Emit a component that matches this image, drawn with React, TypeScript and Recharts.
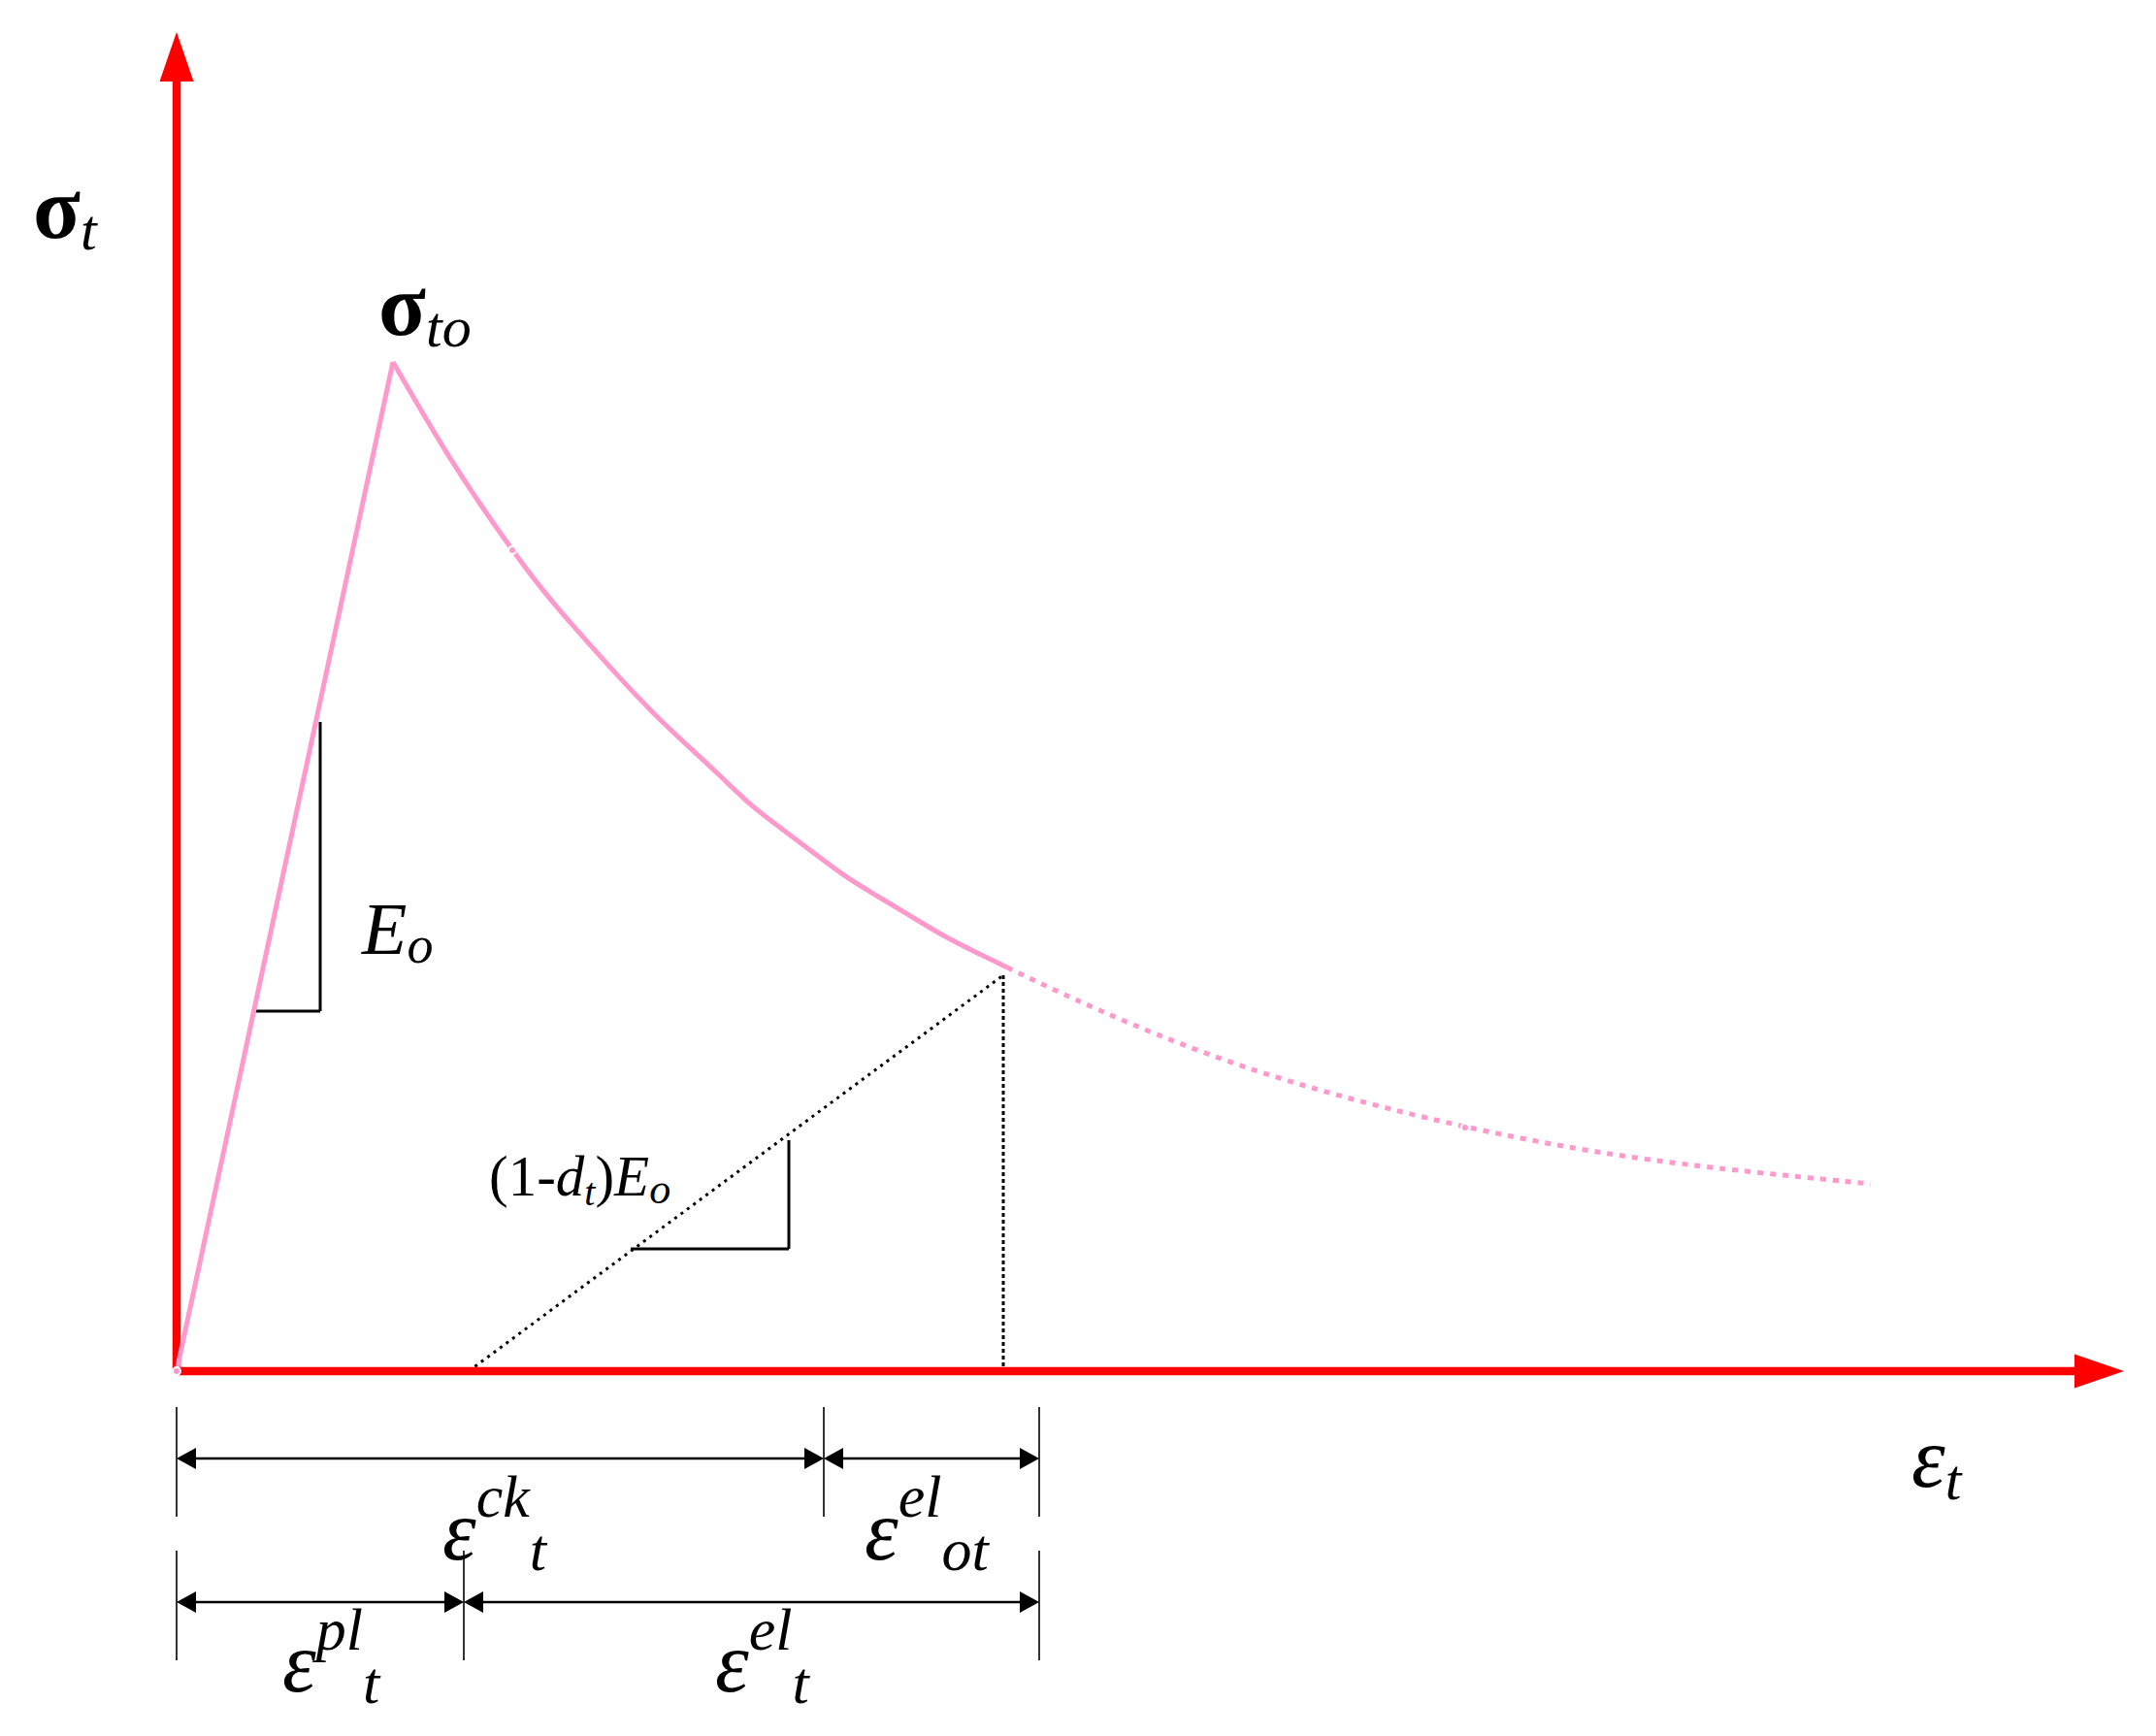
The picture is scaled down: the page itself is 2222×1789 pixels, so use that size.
import { ComposedChart, Line, XAxis, YAxis, ReferenceLine, ReferenceDot } from 'recharts'

// strain (x) / stress (y) in arbitrary sketch units
const loading = [
  { x: 0, y: 0 },
  { x: 2.23, y: 10.4 },
]
const softening = [
  { x: 2.23, y: 10.4 },
  { x: 2.46, y: 10.0 },
  { x: 2.8, y: 9.43 },
  { x: 3.13, y: 8.93 },
  { x: 3.46, y: 8.46 },
  { x: 3.8, y: 8.01 },
  { x: 4.13, y: 7.63 },
  { x: 4.56, y: 7.15 },
  { x: 4.91, y: 6.78 },
  { x: 5.25, y: 6.46 },
  { x: 5.58, y: 6.16 },
  { x: 5.91, y: 5.83 },
  { x: 6.25, y: 5.58 },
  { x: 6.58, y: 5.33 },
  { x: 6.91, y: 5.08 },
  { x: 7.25, y: 4.88 },
  { x: 7.58, y: 4.68 },
  { x: 7.91, y: 4.48 },
  { x: 8.25, y: 4.31 },
  { x: 8.56, y: 4.16 },
]
const softeningTail = [
  { x: 8.56, y: 4.16 },
  { x: 9.46, y: 3.73 },
  { x: 10.73, y: 3.21 },
  { x: 12.01, y: 2.82 },
  { x: 13.28, y: 2.51 },
  { x: 14.56, y: 2.26 },
  { x: 15.83, y: 2.09 },
  { x: 17.46, y: 1.93 },
]
const unloading = [
  { x: 3.01, y: 0 },
  { x: 8.52, y: 4.08 },
]
const unloadDrop = [
  { x: 8.52, y: 4.08 },
  { x: 8.52, y: 0 },
]
const slopeE0 = [
  { x: 0.8, y: 3.71 },
  { x: 1.48, y: 3.71 },
  { x: 1.48, y: 6.69 },
]
const slopeDamaged = [
  { x: 4.68, y: 1.26 },
  { x: 6.31, y: 1.26 },
  { x: 6.31, y: 2.38 },
]
const axisEndX = 20.07
const axisEndY = 13.8
// dimension rows: strain marks (0, ck | el_ot) and (0, pl | el)
const crackMarks = [0, 6.67, 8.89]
const plasticMarks = [0, 2.96, 8.89]
const rowCrack = { y: -0.9, tickTop: -0.37, tickBottom: -1.5 }
const rowPlastic = { y: -2.38, tickTop: -1.85, tickBottom: -2.98 }

const W = 2222
const H = 1789
const FONT = '"Liberation Serif", "Times New Roman", serif'
const PINK = '#ff99cc'
const RED = '#ff0000'

type Piece = { t: string; size: number; italic?: boolean; bold?: boolean; dy?: number; dx?: number }
type Note = { x: number; y: number; pieces: Piece[] }

const notes: Note[] = [
  { x: -1.48, y: 11.68, pieces: [{ t: 'σ', size: 90, bold: true }, { t: 't', size: 60, italic: true, dy: 12 }] },
  { x: 2.08, y: 10.68, pieces: [{ t: 'σ', size: 90, bold: true }, { t: 'to', size: 60, italic: true, dy: 12 }] },
  { x: 1.91, y: 4.3, pieces: [{ t: 'E', size: 76, italic: true }, { t: 'o', size: 54, italic: true, dy: 9, dx: 0 }] },
  {
    x: 3.22,
    y: 1.81,
    pieces: [
      { t: '(1-', size: 59 },
      { t: 'd', size: 59, italic: true },
      { t: 't', size: 40, italic: true, dy: 10 },
      { t: ')', size: 59, dy: -10 },
      { t: 'E', size: 59, italic: true },
      { t: 'o', size: 44, italic: true, dy: 8 },
    ],
  },
  { x: 17.88, y: -1.19, pieces: [{ t: 'ε', size: 88, italic: true }, { t: 't', size: 60, italic: true, dy: 13 }] },
  {
    x: 2.74,
    y: -1.94,
    pieces: [
      { t: 'ε', size: 88, italic: true },
      { t: 'ck', size: 62, italic: true, dy: -44 },
      { t: 't', size: 62, italic: true, dy: 55 },
    ],
  },
  {
    x: 7.09,
    y: -1.94,
    pieces: [
      { t: 'ε', size: 88, italic: true },
      { t: 'el', size: 62, italic: true, dy: -44 },
      { t: 'ot', size: 62, italic: true, dy: 55 },
    ],
  },
  {
    x: 1.09,
    y: -3.3,
    pieces: [
      { t: 'ε', size: 88, italic: true },
      { t: 'pl', size: 62, italic: true, dy: -43 },
      { t: 't', size: 62, italic: true, dy: 55 },
    ],
  },
  {
    x: 5.55,
    y: -3.3,
    pieces: [
      { t: 'ε', size: 88, italic: true },
      { t: 'el', size: 62, italic: true, dy: -43 },
      { t: 't', size: 62, italic: true, dy: 55 },
    ],
  },
]

// line with filled arrowheads, drawn in pixel space from the scaled end points
const arrowShape =
  (opts: { color: string; width: number; len: number; half: number; start: boolean; end: boolean }) =>
  (p: any) => {
    const { x1, y1, x2, y2 } = p
    const dx = x2 - x1
    const dy = y2 - y1
    const d = Math.hypot(dx, dy) || 1
    const ux = dx / d
    const uy = dy / d
    const head = (tx: number, ty: number, sx: number, sy: number) => {
      const bx = tx - sx * opts.len
      const by = ty - sy * opts.len
      return `${tx},${ty} ${bx - sy * opts.half},${by + sx * opts.half} ${bx + sy * opts.half},${by - sx * opts.half}`
    }
    const ax = opts.start ? x1 + ux * opts.len * 0.8 : x1
    const ay = opts.start ? y1 + uy * opts.len * 0.8 : y1
    const bx = opts.end ? x2 - ux * opts.len * 0.8 : x2
    const by = opts.end ? y2 - uy * opts.len * 0.8 : y2
    return (
      <g>
        <line x1={ax} y1={ay} x2={bx} y2={by} stroke={opts.color} strokeWidth={opts.width} />
        {opts.start && <polygon points={head(x1, y1, -ux, -uy)} fill={opts.color} />}
        {opts.end && <polygon points={head(x2, y2, ux, uy)} fill={opts.color} />}
      </g>
    )
  }

const axisArrow = arrowShape({ color: RED, width: 8.5, len: 51, half: 17.5, start: false, end: true })
const dimArrow = arrowShape({ color: '#000', width: 2.5, len: 20, half: 11, start: true, end: true })

const noteShape = (n: Note) => (p: any) => (
  <text x={p.cx} y={p.cy} fontFamily={FONT} fill="#000">
    {n.pieces.map((pc, i) => (
      <tspan
        key={i}
        fontSize={pc.size}
        fontStyle={pc.italic ? 'italic' : 'normal'}
        fontWeight={pc.bold ? 'bold' : 'normal'}
        dy={pc.dy ?? 0}
        dx={pc.dx ?? 0}
      >
        {pc.t}
      </tspan>
    ))}
  </text>
)

const segLines = (pts: { x: number; y: number }[]) =>
  pts.slice(1).map((pt, i) => [pts[i], pt] as [{ x: number; y: number }, { x: number; y: number }])

export default function App() {
  return (
    <div style={{ position: 'absolute', left: 0, top: 0, width: W, height: H, background: '#fff' }}>
      <ComposedChart width={W} height={H} margin={{ top: 0, right: 0, bottom: 0, left: 0 }}>
        <XAxis type="number" dataKey="x" domain={[-1.82, 20.4]} allowDataOverflow hide />
        <YAxis type="number" dataKey="y" domain={[-3.76, 14.13]} allowDataOverflow hide />

        {/* unloading path */}
        <Line data={unloading} dataKey="y" type="linear" stroke="#000" strokeWidth={3} strokeDasharray="3 5" dot={false} isAnimationActive={false} />
        <Line data={unloadDrop} dataKey="y" type="linear" stroke="#000" strokeWidth={3} strokeDasharray="4 3" dot={false} isAnimationActive={false} />

        {/* slope markers */}
        {[...segLines(slopeE0), ...segLines(slopeDamaged)].map((s, i) => (
          <ReferenceLine key={`sl${i}`} segment={s} stroke="#000" strokeWidth={3} />
        ))}

        {/* axes */}
        <ReferenceLine segment={[{ x: 0, y: 0 }, { x: axisEndX, y: 0 }]} shape={axisArrow} />
        <ReferenceLine segment={[{ x: 0, y: 0 }, { x: 0, y: axisEndY }]} shape={axisArrow} />

        {/* stress-strain curve */}
        <Line data={loading} dataKey="y" type="linear" stroke={PINK} strokeWidth={5} dot={false} isAnimationActive={false} />
        <Line data={softening} dataKey="y" type="basis" stroke={PINK} strokeWidth={5} dot={false} isAnimationActive={false} />
        <Line data={softeningTail} dataKey="y" type="basis" stroke={PINK} strokeWidth={5} strokeDasharray="6 7" dot={false} isAnimationActive={false} />

        {/* dimension rows */}
        {[
          { marks: crackMarks, row: rowCrack },
          { marks: plasticMarks, row: rowPlastic },
        ].map(({ marks, row }, r) => (
          <g key={`row${r}`}>
            {marks.map((m, i) => (
              <ReferenceLine
                key={`t${r}${i}`}
                segment={[{ x: m, y: row.tickTop }, { x: m, y: row.tickBottom }]}
                stroke="#000"
                strokeWidth={1.6}
              />
            ))}
            {marks.slice(1).map((m, i) => (
              <ReferenceLine
                key={`a${r}${i}`}
                segment={[{ x: marks[i], y: row.y }, { x: m, y: row.y }]}
                shape={dimArrow}
              />
            ))}
          </g>
        ))}

        {notes.map((n, i) => (
          <ReferenceDot key={`n${i}`} x={n.x} y={n.y} r={1} shape={noteShape(n)} />
        ))}
      </ComposedChart>
    </div>
  )
}
